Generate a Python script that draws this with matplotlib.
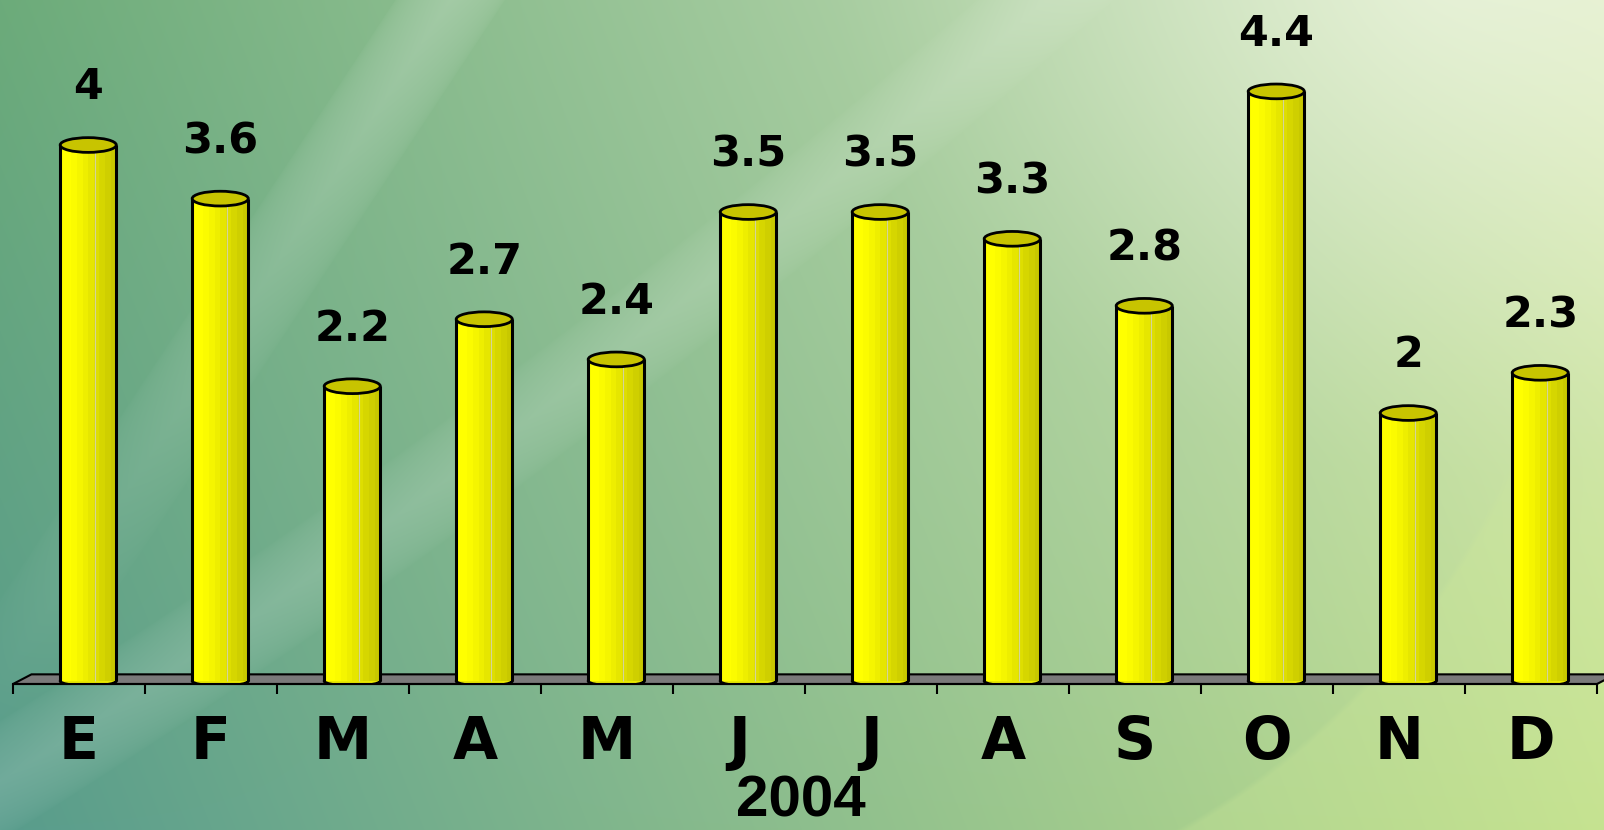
import numpy as np
import matplotlib
matplotlib.use("Agg")
import matplotlib.pyplot as plt
from matplotlib.patches import Ellipse, Polygon

months = ["E", "F", "M", "A", "M", "J", "J", "A", "S", "O", "N", "D"]
values = [4.0, 3.6, 2.2, 2.7, 2.4, 3.5, 3.5, 3.3, 2.8, 4.4, 2.0, 2.3]
value_labels = ["4", "3.6", "2.2", "2.7", "2.4", "3.5", "3.5", "3.3", "2.8", "4.4", "2", "2.3"]
year = "2004"

W, H = 1604, 830
fig = plt.figure(figsize=(W / 100, H / 100), dpi=100)

# background: green gradient with light swooshes
yy, xx = np.mgrid[0:H, 0:W].astype(float)
u = xx / (W - 1)
v = yy / (H - 1)
TL = np.array([108, 171, 122]) / 255
TR = np.array([222, 236, 196]) / 255
BL = np.array([88, 156, 140]) / 255
BR = np.array([194, 224, 142]) / 255
bg = (((1 - u) * (1 - v))[..., None] * TL + (u * (1 - v))[..., None] * TR
      + ((1 - u) * v)[..., None] * BL + (u * v)[..., None] * BR)

def blend(img, mask, col):
    return img * (1 - mask[..., None]) + np.array(col) * mask[..., None]

# narrow band top-left
d = xx - (450 - 0.66 * yy)
band = np.clip(1 - np.abs(d) / 55, 0, 1) ** 0.5 * 0.2 * np.clip(1 - yy / 780, 0, 1)
bg = blend(bg, band, (1, 1, 1))
# broad arc band
yc = 780 - 0.62 * xx - 0.00012 * xx ** 2
band2 = np.clip(1 - np.abs(yy - yc) / 60, 0, 1) ** 0.6 * 0.14
bg = blend(bg, band2, (1, 1, 1))
# light blob top right
r = np.sqrt((xx - 1450) ** 2 + ((yy + 40) * 1.2) ** 2)
blob = np.clip(1 - r / 620, 0, 1) ** 1.3 * 0.6
bg = blend(bg, blob, (0.96, 0.98, 0.92))
# lighter yellow-green lower right outside arc
r2 = np.sqrt((xx - 800) ** 2 + (yy - 150) ** 2)
outer = (np.clip((r2 - 776) / 6, 0, 1) * np.clip((xx - 1050) / 150, 0, 1)
         * np.clip((yy - 420) / 120, 0, 1) * 0.25)
bg = blend(bg, outer, (0.82, 0.92, 0.6))

bgax = fig.add_axes([0, 0, 1, 1], zorder=0)
bgax.imshow(np.clip(bg, 0, 1), aspect="auto", extent=[0, 1, 0, 1])
bgax.axis("off")

# main axes: y=0 at pixel row 681, 134 px per unit
ax = fig.add_axes([13 / W, (H - 684) / H, 1584 / W, (684 - 11) / H], zorder=1)
ax.set_facecolor("none")
ax.set_xlim(-0.5, 11.5)
ax.set_ylim(-0.022, 5.0)

x = np.arange(len(values))
off = 0.07
bw = 0.425

# floor
floor = Polygon([(-0.5, -0.022), (11.5, -0.022), (11.64, 0.05), (-0.36, 0.05)],
                closed=True, facecolor="#7a7a7a", edgecolor="black", lw=1.5,
                zorder=1, clip_on=False)
ax.add_patch(floor)

strip_cols = ["#ffff00", "#ffff00", "#fbfb00", "#f5f500", "#eeee00",
              "#e6e600", "#dede00", "#d6d600", "#cfcf00", "#c8c800"]
n = len(strip_cols)
xc = x + off
for k, c in enumerate(strip_cols):
    ax.bar(xc - bw / 2 + (k + 0.5) * bw / n, values, width=bw / n * 1.02,
           color=c, linewidth=0, zorder=3)

for i, val in enumerate(values):
    ax.add_patch(Ellipse((xc[i], 0), bw, 0.07, facecolor="#e8e800",
                         edgecolor="black", lw=2, zorder=2))
    ax.add_patch(Ellipse((xc[i], val), bw, 0.11, facecolor="#c8c400",
                         edgecolor="black", lw=2, zorder=5))
ax.vlines(xc - bw / 2, 0, values, color="black", lw=2.2, zorder=4)
ax.vlines(xc + bw / 2, 0, values, color="black", lw=2.2, zorder=4)
ax.vlines(xc + bw * 0.12, 0, values, color="#d4d49a", lw=0.8, zorder=4)

for i, val in enumerate(values):
    ax.text(xc[i], val + 0.34, value_labels[i], ha="center", va="baseline",
            fontsize=31, fontweight="bold", family="DejaVu Sans", zorder=6)

for i, m in enumerate(months):
    ax.text(x[i], -0.582, m, ha="center", va="baseline", fontsize=42,
            fontweight="bold", family="DejaVu Sans")

fig.text(801 / W, 14 / H, year, ha="center", va="baseline", fontsize=42,
         fontweight="bold", family="Liberation Sans")

for s in ["left", "right", "top"]:
    ax.spines[s].set_visible(False)
ax.spines["bottom"].set_linewidth(1.5)
ax.set_xticks(np.arange(-0.5, 12, 1.0))
ax.set_xticklabels([])
ax.tick_params(axis="x", direction="out", length=7.5, width=1.5, color="black")
ax.set_yticks([])

fig.savefig("out.png", dpi=100)
